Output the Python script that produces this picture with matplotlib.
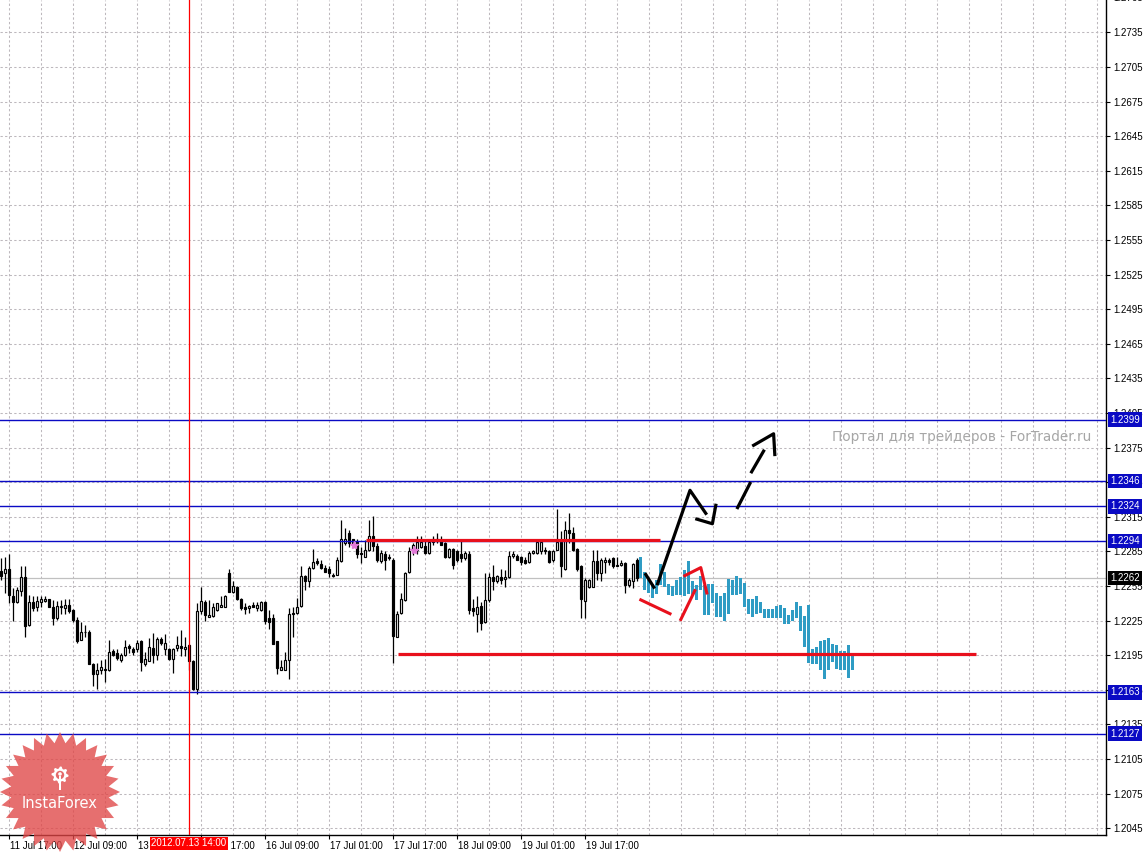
import numpy as np
import matplotlib.pyplot as plt
import matplotlib.transforms as mtransforms
from matplotlib.patches import Polygon, Circle, Rectangle

# EURUSD H1 свечи (бары 0..159, 11 Jul 15:00 -> 20 Jul)
opens = [1.2268, 1.2266, 1.2270, 1.2246, 1.2241, 1.2251, 1.2263, 1.2221, 1.2241, 1.2237,
         1.2241, 1.2242, 1.2244, 1.2237, 1.2227, 1.2237, 1.2236, 1.2239, 1.2234, 1.2226,
         1.2208, 1.2215, 1.2215, 1.2187, 1.2179, 1.2182, 1.2183, 1.2182, 1.2199, 1.2197,
         1.2191, 1.2195, 1.2203, 1.2200, 1.2200, 1.2207, 1.2187, 1.2190, 1.2201, 1.2195,
         1.2209, 1.2200, 1.2200, 1.2192, 1.2201, 1.2203, 1.2200, 1.2204, 1.2190, 1.2166,
         1.2233, 1.2241, 1.2228, 1.2229, 1.2234, 1.2237, 1.2237, 1.2266, 1.2250, 1.2254,
         1.2244, 1.2237, 1.2236, 1.2239, 1.2236, 1.2234, 1.2241, 1.2227, 1.2227, 1.2207,
         1.2182, 1.2182, 1.2191, 1.2232, 1.2232, 1.2238, 1.2264, 1.2259, 1.2271, 1.2277,
         1.2274, 1.2271, 1.2270, 1.2265, 1.2265, 1.2277, 1.2292, 1.2301, 1.2296, 1.2293,
         1.2284, 1.2280, 1.2286, 1.2298, 1.2290, 1.2277, 1.2283, 1.2280, 1.2278, 1.2211,
         1.2232, 1.2243, 1.2267, 1.2285, 1.2286, 1.2289, 1.2290, 1.2284, 1.2293, 1.2296,
         1.2295, 1.2292, 1.2280, 1.2287, 1.2285, 1.2283, 1.2279, 1.2283, 1.2236, 1.2231,
         1.2238, 1.2224, 1.2243, 1.2263, 1.2259, 1.2263, 1.2261, 1.2263, 1.2281, 1.2281,
         1.2280, 1.2278, 1.2276, 1.2284, 1.2284, 1.2285, 1.2286, 1.2285, 1.2278, 1.2286,
         1.2293, 1.2270, 1.2304, 1.2301, 1.2287, 1.2272, 1.2242, 1.2254, 1.2254, 1.2277,
         1.2266, 1.2276, 1.2278, 1.2279, 1.2273, 1.2273, 1.2275, 1.2256, 1.2259, 1.2278]
highs = [1.2279, 1.2280, 1.2283, 1.2253, 1.2254, 1.2272, 1.2272, 1.2247, 1.2246, 1.2246,
         1.2246, 1.2246, 1.2244, 1.2243, 1.2242, 1.2243, 1.2244, 1.2244, 1.2235, 1.2228,
         1.2224, 1.2221, 1.2217, 1.2188, 1.2188, 1.2191, 1.2192, 1.2208, 1.2200, 1.2200,
         1.2197, 1.2208, 1.2205, 1.2202, 1.2208, 1.2208, 1.2198, 1.2210, 1.2214, 1.2211,
         1.2211, 1.2213, 1.2201, 1.2201, 1.2212, 1.2217, 1.2211, 1.2205, 1.2191, 1.2240,
         1.2254, 1.2243, 1.2243, 1.2240, 1.2240, 1.2246, 1.2247, 1.2270, 1.2259, 1.2255,
         1.2245, 1.2240, 1.2239, 1.2241, 1.2241, 1.2242, 1.2242, 1.2234, 1.2231, 1.2207,
         1.2191, 1.2198, 1.2236, 1.2237, 1.2245, 1.2272, 1.2265, 1.2272, 1.2287, 1.2279,
         1.2278, 1.2273, 1.2272, 1.2266, 1.2280, 1.2312, 1.2305, 1.2304, 1.2296, 1.2296,
         1.2289, 1.2295, 1.2312, 1.2316, 1.2292, 1.2286, 1.2285, 1.2283, 1.2279, 1.2233,
         1.2249, 1.2267, 1.2289, 1.2292, 1.2298, 1.2298, 1.2294, 1.2296, 1.2298, 1.2301,
         1.2298, 1.2293, 1.2288, 1.2288, 1.2286, 1.2294, 1.2285, 1.2285, 1.2244, 1.2246,
         1.2241, 1.2266, 1.2266, 1.2273, 1.2265, 1.2270, 1.2269, 1.2285, 1.2285, 1.2283,
         1.2281, 1.2280, 1.2285, 1.2286, 1.2295, 1.2294, 1.2289, 1.2286, 1.2286, 1.2322,
         1.2303, 1.2311, 1.2318, 1.2306, 1.2288, 1.2273, 1.2262, 1.2261, 1.2286, 1.2286,
         1.2279, 1.2280, 1.2279, 1.2280, 1.2280, 1.2278, 1.2276, 1.2262, 1.2275, 1.2279]
lows = [1.2260, 1.2249, 1.2240, 1.2225, 1.2240, 1.2246, 1.2211, 1.2220, 1.2233, 1.2233,
        1.2237, 1.2241, 1.2237, 1.2221, 1.2226, 1.2231, 1.2231, 1.2232, 1.2224, 1.2206,
        1.2208, 1.2211, 1.2187, 1.2168, 1.2166, 1.2179, 1.2172, 1.2181, 1.2194, 1.2191,
        1.2189, 1.2194, 1.2197, 1.2195, 1.2198, 1.2181, 1.2186, 1.2190, 1.2188, 1.2191,
        1.2204, 1.2195, 1.2191, 1.2180, 1.2199, 1.2194, 1.2194, 1.2182, 1.2165, 1.2161,
        1.2231, 1.2225, 1.2228, 1.2228, 1.2233, 1.2237, 1.2237, 1.2250, 1.2249, 1.2243,
        1.2234, 1.2231, 1.2232, 1.2237, 1.2233, 1.2233, 1.2222, 1.2218, 1.2205, 1.2179,
        1.2182, 1.2182, 1.2174, 1.2211, 1.2231, 1.2237, 1.2252, 1.2254, 1.2270, 1.2273,
        1.2270, 1.2267, 1.2263, 1.2263, 1.2265, 1.2276, 1.2291, 1.2289, 1.2289, 1.2279,
        1.2275, 1.2280, 1.2285, 1.2285, 1.2276, 1.2275, 1.2269, 1.2278, 1.2188, 1.2211,
        1.2231, 1.2242, 1.2266, 1.2282, 1.2283, 1.2288, 1.2283, 1.2283, 1.2291, 1.2292,
        1.2291, 1.2279, 1.2279, 1.2270, 1.2276, 1.2276, 1.2278, 1.2231, 1.2229, 1.2215,
        1.2217, 1.2223, 1.2241, 1.2252, 1.2258, 1.2257, 1.2254, 1.2262, 1.2279, 1.2278,
        1.2273, 1.2274, 1.2275, 1.2283, 1.2283, 1.2283, 1.2283, 1.2275, 1.2276, 1.2286,
        1.2263, 1.2269, 1.2292, 1.2285, 1.2268, 1.2227, 1.2227, 1.2253, 1.2254, 1.2260,
        1.2259, 1.2266, 1.2273, 1.2271, 1.2272, 1.2272, 1.2249, 1.2254, 1.2253, 1.2259]
closes = [1.2264, 1.2270, 1.2247, 1.2241, 1.2252, 1.2263, 1.2220, 1.2241, 1.2236, 1.2242,
          1.2244, 1.2244, 1.2237, 1.2227, 1.2238, 1.2238, 1.2239, 1.2233, 1.2226, 1.2207,
          1.2215, 1.2215, 1.2187, 1.2179, 1.2182, 1.2185, 1.2182, 1.2198, 1.2195, 1.2193,
          1.2195, 1.2202, 1.2201, 1.2198, 1.2206, 1.2189, 1.2192, 1.2202, 1.2195, 1.2209,
          1.2206, 1.2206, 1.2192, 1.2200, 1.2204, 1.2201, 1.2202, 1.2190, 1.2166, 1.2233,
          1.2242, 1.2230, 1.2230, 1.2237, 1.2240, 1.2239, 1.2246, 1.2250, 1.2255, 1.2244,
          1.2236, 1.2235, 1.2238, 1.2237, 1.2239, 1.2241, 1.2225, 1.2224, 1.2205, 1.2184,
          1.2185, 1.2191, 1.2231, 1.2231, 1.2237, 1.2264, 1.2259, 1.2271, 1.2276, 1.2275,
          1.2271, 1.2267, 1.2266, 1.2264, 1.2278, 1.2296, 1.2296, 1.2292, 1.2291, 1.2283,
          1.2283, 1.2286, 1.2298, 1.2290, 1.2278, 1.2284, 1.2278, 1.2279, 1.2212, 1.2231,
          1.2244, 1.2266, 1.2285, 1.2291, 1.2293, 1.2293, 1.2284, 1.2293, 1.2296, 1.2294,
          1.2291, 1.2280, 1.2287, 1.2273, 1.2278, 1.2279, 1.2284, 1.2234, 1.2233, 1.2237,
          1.2223, 1.2243, 1.2263, 1.2259, 1.2264, 1.2260, 1.2263, 1.2281, 1.2283, 1.2278,
          1.2276, 1.2275, 1.2284, 1.2285, 1.2293, 1.2293, 1.2285, 1.2276, 1.2285, 1.2293,
          1.2272, 1.2304, 1.2301, 1.2286, 1.2270, 1.2244, 1.2260, 1.2260, 1.2277, 1.2266,
          1.2278, 1.2278, 1.2276, 1.2272, 1.2272, 1.2275, 1.2256, 1.2260, 1.2274, 1.2262]

# прогноз (голубые бары, 160..213): максимум / минимум
fc_high = [1.2280, 1.2267, 1.2260, 1.2257, 1.2260, 1.2274, 1.2267, 1.2257, 1.2255, 1.2260,
           1.2263, 1.2269, 1.2277, 1.2259, 1.2256, 1.2264, 1.2256, 1.2257, 1.2257, 1.2249,
           1.2246, 1.2249, 1.2261, 1.2260, 1.2264, 1.2262, 1.2258, 1.2244, 1.2244, 1.2246,
           1.2241, 1.2235, 1.2235, 1.2235, 1.2238, 1.2239, 1.2236, 1.2230, 1.2234, 1.2241,
           1.2238, 1.2229, 1.2239, 1.2200, 1.2202, 1.2207, 1.2208, 1.2210, 1.2205, 1.2204,
           1.2199, 1.2199, 1.2204, 1.2197]
fc_low = [1.2262, 1.2252, 1.2249, 1.2245, 1.2248, 1.2256, 1.2254, 1.2247, 1.2246, 1.2247,
          1.2247, 1.2246, 1.2248, 1.2246, 1.2243, 1.2252, 1.2230, 1.2230, 1.2240, 1.2228,
          1.2228, 1.2225, 1.2231, 1.2247, 1.2247, 1.2248, 1.2237, 1.2231, 1.2228, 1.2231,
          1.2232, 1.2227, 1.2227, 1.2227, 1.2227, 1.2227, 1.2222, 1.2222, 1.2225, 1.2227,
          1.2216, 1.2202, 1.2188, 1.2187, 1.2187, 1.2182, 1.2174, 1.2182, 1.2189, 1.2183,
          1.2182, 1.2182, 1.2175, 1.2182]

# уровни
blue_levels = [1.2399, 1.2346, 1.2324, 1.2294, 1.2163, 1.2127]
bid = 1.2262
resist_bars, resist_price = [91.25, 164.75], 1.2295
support_bars, support_price = [99.25, 243.75], 1.2196
vline_bar = 47.0

# нарисованные линии (бар, цена)
black_solid = [([161.25, 163.25], [1.2265, 1.2254]),
               ([164.2, 172.3, 176.25], [1.2257, 1.2338, 1.2318]),
               ([174.0, 177.9, 178.75], [1.2313, 1.2309, 1.2325])]
black_dash = [([184.2, 187.3], [1.2323, 1.2344]),
              ([187.7, 190.7], [1.2354, 1.2372]),
              ([188.2, 193.2, 193.5], [1.2377, 1.2387, 1.2369])]
red_marks = [([160.0, 167.3], [1.2243, 1.2231]),
             ([170.0, 173.5], [1.2226, 1.2251]),
             ([171.0, 175.0, 176.5], [1.2264, 1.2271, 1.2249])]
star_bars = [88.2, 103.2]
star_prices = [1.2291, 1.2286]

tick_bars = [2, 18, 34, 50, 66, 82, 98, 114, 130, 146]
tick_labels = ["11 Jul 17:00", "12 Jul 09:00", "13 Jul 01:00", "13 Jul 17:00",
               "16 Jul 09:00", "17 Jul 01:00", "17 Jul 17:00", "18 Jul 09:00",
               "19 Jul 01:00", "19 Jul 17:00"]
price_ticks = np.round(np.arange(1.2045, 1.2740, 0.003), 4)

BLUE = '#0a0ac4'
RED = '#e8101c'
CYAN = '#2f9cc4'
GRID = '#bdb8bd'
FS = 7.0

fig = plt.figure(figsize=(11.47, 8.52), dpi=100)
ax = fig.add_axes([0, 17 / 852, 1106 / 1147, 835 / 852])
ax.set_xlim(-0.2, 276.3)
ax.set_ylim(1.20392, 1.27630)

# сетка
for p in price_ticks:
    ax.axhline(p, color=GRID, lw=0.75, dashes=(2.2, 2.2), zorder=0)
for b in range(2, 277, 8):
    ax.axvline(b, color=GRID, lw=0.75, dashes=(2.2, 2.2), zorder=0)

ax.axhline(bid, color='#c0c0c0', lw=0.9, zorder=1)

# свечи
x = np.arange(len(opens))
o = np.array(opens); c = np.array(closes)
ax.vlines(x, lows, highs, color='black', lw=0.9, zorder=3)
up = c >= o
ax.bar(x[up], np.maximum(c[up] - o[up], 0.00002), bottom=o[up], width=0.55,
       facecolor='white', edgecolor='black', lw=0.85, zorder=4)
ax.bar(x[~up], o[~up] - c[~up], bottom=c[~up], width=0.55,
       facecolor='black', edgecolor='black', lw=0.85, zorder=4)

# прогноз
xf = np.arange(160, 160 + len(fc_high))
ax.bar(xf, np.array(fc_high) - np.array(fc_low), bottom=fc_low, width=0.75,
       color=CYAN, lw=0, zorder=4)

# уровни
for lv in blue_levels:
    ax.axhline(lv, color=BLUE, lw=1.0, zorder=5)
ax.axvline(vline_bar, color='red', lw=0.9, zorder=5)
ax.plot(resist_bars, [resist_price] * 2, color=RED, lw=2.3, solid_capstyle='butt', zorder=6)
ax.plot(support_bars, [support_price] * 2, color=RED, lw=2.3, solid_capstyle='butt', zorder=6)
for xs, ys in red_marks:
    ax.plot(xs, ys, color=RED, lw=2.2, zorder=7)
for xs, ys in black_solid + black_dash:
    ax.plot(xs, ys, color='black', lw=2.3, zorder=7)
ax.plot(star_bars, star_prices, ls='none', marker='*', ms=6, color='#e27ad8', zorder=6)

# оси
for s in ['left', 'top']:
    ax.spines[s].set_visible(False)
for s in ['right', 'bottom']:
    ax.spines[s].set_linewidth(1.0)
ax.yaxis.tick_right()
ax.set_yticks(price_ticks)
ax.set_yticklabels([f"{p:.4f}" for p in price_ticks])
ax.tick_params(axis='y', length=3, width=0.8, pad=2.5, labelsize=FS)
ax.set_xticks(tick_bars)
ax.set_xticklabels(tick_labels)
ax.tick_params(axis='x', length=3, width=0.8, pad=1.5, labelsize=FS)
shift = mtransforms.ScaledTranslation(1.5 / 100, 0, fig.dpi_scale_trans)
for lbl in ax.get_xticklabels():
    lbl.set_ha('left')
    lbl.set_transform(lbl.get_transform() + shift)
for lbl in ax.get_xticklabels() + ax.get_yticklabels():
    lbl.set_fontfamily(['Liberation Sans', 'DejaVu Sans'])

ty = mtransforms.blended_transform_factory(ax.transAxes, ax.transData)
tx = mtransforms.blended_transform_factory(ax.transData, ax.transAxes)

ax.text(1.0 + 7 / 1106, 1.2765, "1.2765", transform=ty, va='center', ha='left',
        fontsize=FS, family='Liberation Sans', clip_on=False)
ax.plot([1.0, 1.0 + 4 / 1106], [1.2765, 1.2765], transform=ty, color='black',
        lw=0.8, clip_on=False)

for lv in blue_levels:
    ax.text(1.0 + 4 / 1106, lv, f"{lv:.4f}", transform=ty, va='center', ha='left',
            color='white', fontsize=FS, family='Liberation Sans', clip_on=False, zorder=10,
            bbox=dict(boxstyle='square,pad=0.25', fc=BLUE, ec='none'))
ax.text(1.0 + 4 / 1106, bid, f"{bid:.4f}", transform=ty, va='center', ha='left',
        color='white', fontsize=FS, family='Liberation Sans', clip_on=False, zorder=10,
        bbox=dict(boxstyle='square,pad=0.25', fc='black', ec='none'))

ax.text(vline_bar, -8.5 / 835, "2012.07.13 14:00", transform=tx, va='center', ha='center',
        color='white', fontsize=FS, family='Liberation Sans', clip_on=False, zorder=10,
        bbox=dict(boxstyle='square,pad=0.15', fc='#ff0000', ec='none'))

ax.text(1091 / 1106, 1.2384, "Портал для трейдеров - ForTrader.ru", transform=ty,
        ha='right', va='center', fontsize=9.8, color='#a6a6a6', family='DejaVu Sans', zorder=2)

# логотип InstaForex
ov = fig.add_axes([0, 0, 1, 1], zorder=10)
ov.set_xlim(0, 1147)
ov.set_ylim(852, 0)
ov.axis('off')
n = 28
ang = np.linspace(0, 2 * np.pi, 2 * n, endpoint=False) - np.pi / 2
rad = np.where(np.arange(2 * n) % 2 == 0, 60, 49)
ov.add_patch(Polygon(np.c_[60 + rad * np.cos(ang), 792 + rad * np.sin(ang)],
                     closed=True, fc='#e04646', ec='none', alpha=0.78))
gang = np.linspace(0, 2 * np.pi, 32, endpoint=False)
grad = np.where((np.arange(32) // 2) % 2 == 0, 8.5, 6.5)
ov.add_patch(Polygon(np.c_[60 + grad * np.cos(gang), 775 + grad * np.sin(gang)],
                     closed=True, fc='white', ec='none'))
ov.add_patch(Circle((60, 775), 4.2, fc='#e46a6a', ec='none'))
ov.add_patch(Circle((60, 774), 1.8, fc='white', ec='none'))
ov.add_patch(Rectangle((58.6, 776), 2.8, 14, fc='white', ec='none'))
ov.text(60, 804, "InstaForex", color='white', fontsize=10.5, ha='center', va='center',
        family='DejaVu Sans')

fig.savefig('out.png', dpi=100, facecolor='white')
